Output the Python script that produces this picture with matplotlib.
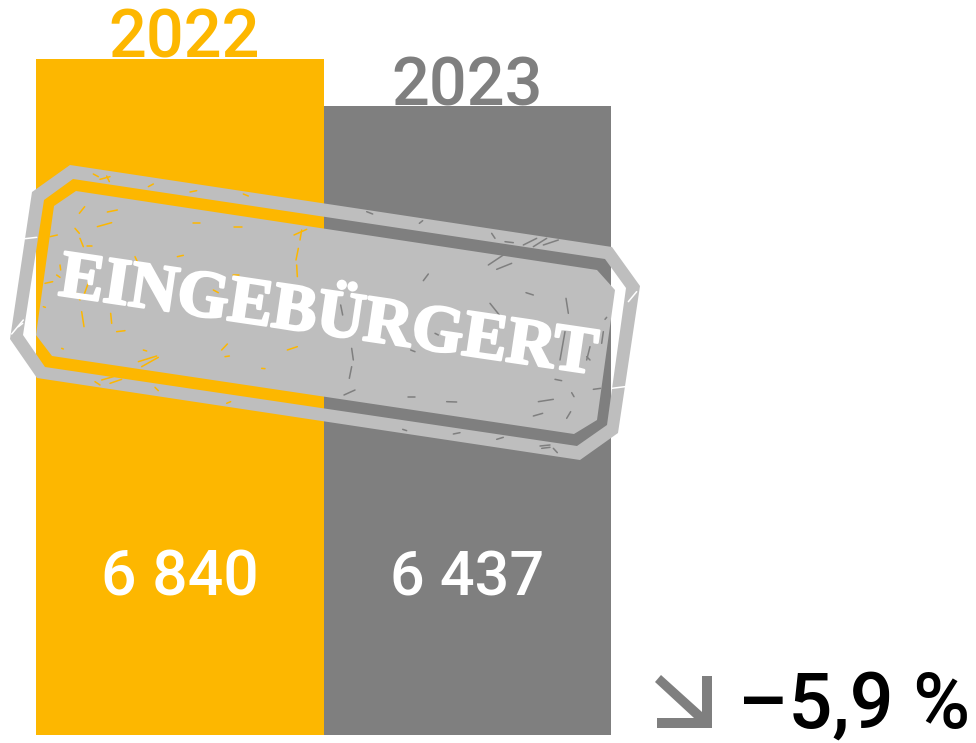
import matplotlib
matplotlib.use("Agg")
import matplotlib.pyplot as plt
import matplotlib.patheffects as pe
from matplotlib.path import Path
from matplotlib.patches import PathPatch, Polygon

years = ["2022", "2023"]
values = [6840, 6437]
value_labels = ["6 840", "6 437"]
change_label = "\u20135,9 %"
stamp_label = "EINGEBÜRGERT"
bar_colors = ["#FDB700", "#7F7F7F"]
stamp_color = "#BEBEBE"

# stamp outlines, in pixels of the picture
ring_outer = [(70, 165), (612, 247), (640, 286), (618, 433), (580, 460), (37, 378), (10, 339), (32, 192)]
ring_inner = [(73, 179), (44, 200), (23, 335), (45, 367), (577, 446), (607, 425), (626, 288), (605, 259)]
plate = [(76, 191), (597, 270), (615, 290), (597, 420), (574, 434), (52, 356), (36, 335), (54, 206)]

# scratches: (x0, y0, x1, y1) in crop pixels
scratches_left = [
    (238, 190, 254, 170), (322, 186, 352, 180), (292, 230, 335, 218), (150, 260, 172, 255),
    (75, 266, 110, 262), (225, 235, 238, 250), (262, 288, 275, 288), (240, 265, 250, 290),
    (580, 218, 600, 218), (702, 232, 725, 232), (882, 255, 920, 238), (905, 240, 900, 270),
    (895, 295, 888, 330), (890, 345, 892, 380), (405, 320, 412, 335), (532, 320, 550, 316),
    (700, 375, 718, 375), (180, 345, 182, 360), (170, 375, 180, 382), (135, 400, 158, 395),
    (270, 385, 250, 440), (230, 430, 240, 450), (262, 440, 285, 445), (245, 485, 252, 530),
    (332, 490, 335, 520), (350, 545, 375, 542), (130, 470, 136, 472), (640, 420, 655, 428),
    (415, 635, 470, 618), (425, 650, 475, 622), (665, 600, 682, 582), (862, 600, 892, 590),
    (675, 620, 688, 618), (785, 655, 795, 656), (430, 600, 440, 603), (185, 595, 190, 597),
    (280, 72, 295, 80), (300, 88, 330, 80), (320, 78, 328, 95), (445, 110, 460, 102),
    (570, 126, 590, 122), (730, 132, 745, 138), (285, 695, 300, 705), (305, 690, 340, 680),
    (330, 700, 365, 688), (465, 712, 475, 722), (680, 760, 692, 755), (35, 552, 70, 510),
    (55, 530, 68, 520),
]
scratches_right = [
    (298, 70, 308, 62), (515, 100, 525, 115), (555, 125, 580, 128), (610, 135, 650, 115),
    (640, 140, 680, 115), (670, 135, 715, 120), (505, 195, 550, 165), (530, 208, 575, 190),
    (310, 242, 325, 222), (510, 310, 538, 345), (618, 278, 640, 285), (738, 295, 745, 340),
    (855, 358, 860, 352), (735, 395, 720, 480), (850, 395, 845, 430), (810, 440, 800, 480),
    (800, 470, 810, 480), (95, 445, 100, 480), (95, 500, 88, 535), (72, 585, 105, 570),
    (62, 315, 68, 345), (345, 400, 355, 405), (272, 450, 285, 455), (705, 538, 725, 542),
    (755, 578, 762, 590), (820, 568, 842, 565), (655, 605, 700, 598), (640, 648, 668, 640),
    (740, 655, 752, 635), (265, 592, 285, 592), (380, 605, 410, 606), (248, 688, 260, 692),
    (400, 702, 420, 698), (530, 718, 550, 712), (660, 738, 690, 735), (665, 745, 690, 742),
    (700, 745, 712, 758), (875, 565, 915, 560), (925, 305, 950, 275), (140, 35, 158, 42),
]

fig = plt.figure(figsize=(9.76, 7.43), dpi=100)

# y range picked so the two bars land at the heights of the reference
ax = fig.add_axes([36 / 976, (743 - 735) / 743, (611 - 36) / 976, 735 / 743])
ax.bar([0, 1], values, width=1, color=bar_colors)
ax.set_xlim(-0.5, 1.5)
ax.set_ylim(1043, 7346)
ax.axis("off")

# overlay in picture pixels for stamp and labels
over = fig.add_axes([0, 0, 1, 1])
over.set_xlim(0, 976)
over.set_ylim(743, 0)
over.axis("off")

font = "Roboto"
weight = "medium"
over.text(184, 58, years[0], color=bar_colors[0], fontsize=48, family=font, weight=weight, ha="center", va="baseline")
over.text(467, 105, years[1], color=bar_colors[1], fontsize=48, family=font, weight=weight, ha="center", va="baseline")
over.text(180, 596, value_labels[0], color="white", fontsize=45, family=font, weight=weight, ha="center", va="baseline")
over.text(467, 596, value_labels[1], color="white", fontsize=44, family=font, weight=weight, ha="center", va="baseline")
over.text(970, 728, change_label, color="black", fontsize=56, family=font, weight=weight, ha="right", va="baseline")

arrow = [(702, 676), (712, 676), (712, 728), (657, 728), (657, 718), (694, 718), (655, 682), (661, 675), (702, 712)]
over.add_patch(Polygon(arrow, closed=True, color="#7F7F7F", lw=0))

# ring with a hole, bars stay visible through the gap
verts = ring_outer + [ring_outer[0]] + ring_inner + [ring_inner[0]]
codes = [Path.MOVETO] + [Path.LINETO] * (len(ring_outer) - 1) + [Path.CLOSEPOLY]
codes += [Path.MOVETO] + [Path.LINETO] * (len(ring_inner) - 1) + [Path.CLOSEPOLY]
over.add_patch(PathPatch(Path(verts, codes), facecolor=stamp_color, lw=0))
over.add_patch(Polygon(plate, closed=True, facecolor=stamp_color, lw=0))

over.text(328, 318, stamp_label, color="white", fontsize=48, fontweight="bold",
          family="Liberation Serif", rotation=-8.4, rotation_mode="anchor",
          ha="center", va="center",
          path_effects=[pe.withStroke(linewidth=1.8, foreground="white")])


def scratch_color(x):
    if 36 <= x < 324:
        return bar_colors[0]
    if 324 <= x < 611:
        return bar_colors[1]
    return "white"


for x0, y0, x1, y1 in scratches_left:
    xa, ya, xb, yb = x0 / 3, 150 + y0 / 3, x1 / 3, 150 + y1 / 3
    over.plot([xa, xb], [ya, yb], color=scratch_color((xa + xb) / 2), lw=1.1, solid_capstyle="round")
for x0, y0, x1, y1 in scratches_right:
    xa, ya, xb, yb = 320 + x0 / 3, 200 + y0 / 3, 320 + x1 / 3, 200 + y1 / 3
    over.plot([xa, xb], [ya, yb], color=scratch_color((xa + xb) / 2), lw=1.1, solid_capstyle="round")

over.set_xlim(0, 976)
over.set_ylim(743, 0)
fig.savefig("out.png", dpi=100)
